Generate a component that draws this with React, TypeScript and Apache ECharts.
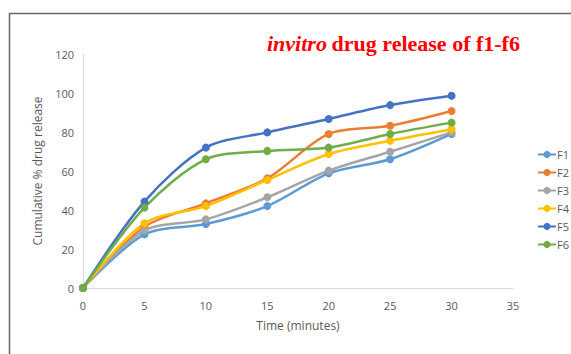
import React, { useEffect, useRef } from "react";
import * as echarts from "echarts";

const times = [0, 5, 10, 15, 20, 25, 30];
const seriesNames = ["F1", "F2", "F3", "F4", "F5", "F6"];
const f1 = [0, 27.5, 32.8, 42, 58.8, 66, 79];
const f2 = [0, 31.4, 43.4, 56.2, 79, 83.2, 90.8];
const f3 = [0, 29.4, 35.2, 46.5, 60.2, 69.9, 79.8];
const f4 = [0, 33.2, 42, 55.4, 68.7, 75.5, 81.4];
const f5 = [0, 44.3, 72, 79.8, 86.7, 93.8, 98.6];
const f6 = [0, 41.2, 66, 70.3, 72, 79, 84.8];
const colors = ["#5B9BD5", "#ED7D31", "#A5A5A5", "#FFC000", "#4472C4", "#70AD47"];

export default function App() {
  const ref = useRef<HTMLDivElement>(null);
  useEffect(() => {
    document.body.style.margin = "0";
    const chart = echarts.init(ref.current!, null, { renderer: "svg" });
    const all = [f1, f2, f3, f4, f5, f6];
    const font = "Open Sans";
    chart.setOption({
      animation: false,
      backgroundColor: "#fff",
      textStyle: { fontFamily: font },
      graphic: [
        {
          type: "rect",
          shape: { x: 9.5, y: 13.5, width: 700, height: 500 },
          style: { fill: "none", stroke: "#666", lineWidth: 1.5 },
          silent: true,
        },
      ],
      title: {
        text: "{i|invitro} {b|drug release of f1-f6}",
        left: 262,
        top: 27,
        textStyle: {
          rich: {
            i: { fontFamily: "Liberation Serif", fontStyle: "italic", fontWeight: "bold", fontSize: 22, color: "#FF0000" },
            b: { fontFamily: "Liberation Serif", fontWeight: "bold", fontSize: 22, color: "#FF0000" },
          },
        },
      },
      legend: {
        orient: "vertical",
        left: 532,
        top: 144,
        itemGap: 7,
        itemWidth: 18,
        itemHeight: 9,
        data: seriesNames,
        textStyle: { color: "#595959", fontSize: 11, fontFamily: font, padding: [0, 0, 0, -4] },
      },
      grid: { left: 83, right: 58, top: 54, bottom: 66, containLabel: false },
      xAxis: {
        type: "value",
        min: 0,
        max: 35,
        interval: 5,
        name: "Time (minutes)",
        nameLocation: "middle",
        nameGap: 31,
        nameTextStyle: { color: "#595959", fontSize: 12, fontFamily: font },
        axisLine: { lineStyle: { color: "#D9D9D9", width: 1 } },
        axisTick: { show: false },
        splitLine: { show: false },
        axisLabel: { color: "#595959", fontSize: 11, margin: 12, fontFamily: font },
      },
      yAxis: {
        type: "value",
        min: 0,
        max: 120,
        interval: 20,
        name: "Cumulative % drug release",
        nameLocation: "middle",
        nameGap: 40,
        nameTextStyle: { color: "#595959", fontSize: 12, fontFamily: font },
        axisLine: { show: true, lineStyle: { color: "#D9D9D9", width: 1 } },
        axisTick: { show: false },
        splitLine: { show: false },
        axisLabel: { color: "#595959", fontSize: 11, margin: 9, fontFamily: font },
      },
      series: all.map((arr, i) => ({
        name: seriesNames[i],
        type: "line",
        smooth: 0.3,
        symbol: "circle",
        symbolSize: 8,
        data: times.map((t, j) => [t, arr[j]]),
        lineStyle: { color: colors[i], width: 2.5 },
        itemStyle: { color: colors[i] },
      })),
    });
    return () => chart.dispose();
  }, []);
  return <div ref={ref} style={{ width: 571, height: 354 }} />;
}
